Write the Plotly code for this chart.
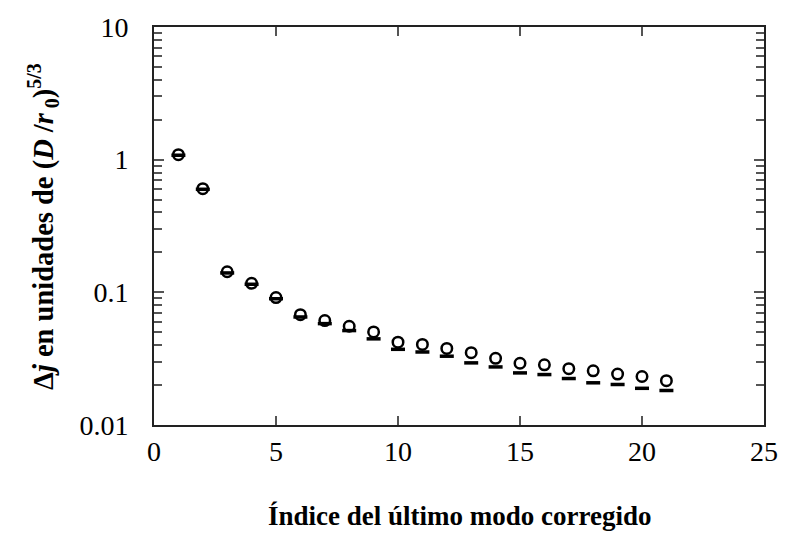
import plotly.graph_objects as go

# Index of the last corrected mode
modes = list(range(1, 22))

# Residual error Δj (open circles)
delta_circles = [1.09, 0.604, 0.143, 0.117, 0.0913, 0.0678, 0.0612, 0.0555, 0.0503,
                 0.0421, 0.0405, 0.0378, 0.0351, 0.0318, 0.0292, 0.0284, 0.0266,
                 0.0256, 0.0242, 0.0232, 0.0216]

# Approximation (short dashes)
delta_dashes = [1.08, 0.598, 0.140, 0.115, 0.0895, 0.0652, 0.0581, 0.0515, 0.0446,
                0.0372, 0.0355, 0.0330, 0.0294, 0.0274, 0.0247, 0.0240, 0.0224,
                0.0208, 0.0202, 0.0189, 0.0182]

x_ticks = [0, 5, 10, 15, 20, 25]
y_ticks = [0.01, 0.1, 1, 10]
y_tick_text = ["0.01", "0.1", "1", "10"]

FONT = "Liberation Serif, Times New Roman, serif"

fig = go.Figure()

fig.add_trace(go.Scatter(
    x=modes, y=delta_dashes, mode="markers",
    marker=dict(symbol="line-ew-open", size=10, color="black",
                line=dict(color="black", width=3.5)),
    showlegend=False,
))

fig.add_trace(go.Scatter(
    x=modes, y=delta_circles, mode="markers",
    marker=dict(symbol="circle-open", size=10.5, color="black",
                line=dict(color="black", width=2.5)),
    showlegend=False,
))

fig.update_layout(
    width=790, height=536,
    margin=dict(l=154, r=18, t=23, b=111),
    paper_bgcolor="white", plot_bgcolor="white",
    font=dict(family=FONT, color="black"),
    showlegend=False,
)

fig.update_xaxes(
    range=[0, 25], tickvals=x_ticks,
    ticks="inside", ticklen=9, tickwidth=1.5, tickcolor="#555",
    showline=True, linecolor="#222", linewidth=2, mirror="ticks",
    showgrid=False, zeroline=False,
    tickfont=dict(family=FONT, size=28, color="black"),
    ticklabelstandoff=0,
)

fig.update_yaxes(
    type="log", range=[-2, 1], tickvals=y_ticks, ticktext=y_tick_text,
    ticks="inside", ticklen=10, tickwidth=1.5, tickcolor="#555",
    minor=dict(ticks="inside", ticklen=8, tickwidth=1.5, tickcolor="#555", dtick="D1", showgrid=False),
    showline=True, linecolor="#222", linewidth=2, mirror="ticks",
    showgrid=False, zeroline=False,
    tickfont=dict(family=FONT, size=28, color="black"),
    ticklabelstandoff=18,
)

fig.add_annotation(
    text="<b>Índice del último modo corregido</b>",
    xref="paper", yref="paper", x=0.5, y=-0.185, xanchor="center", yanchor="top",
    showarrow=False, font=dict(family=FONT, size=27, color="black"),
)

fig.add_annotation(
    text="<b>Δ<i>j</i> en unidades de (<i>D</i> /<i>r</i><sub> 0</sub>)<sup>5/3</sup></b>",
    xref="paper", yref="paper", x=-0.182, y=0.5, xanchor="center", yanchor="middle",
    textangle=-90, showarrow=False, font=dict(family=FONT, size=28.5, color="black"),
)

fig.write_html("out.html")
